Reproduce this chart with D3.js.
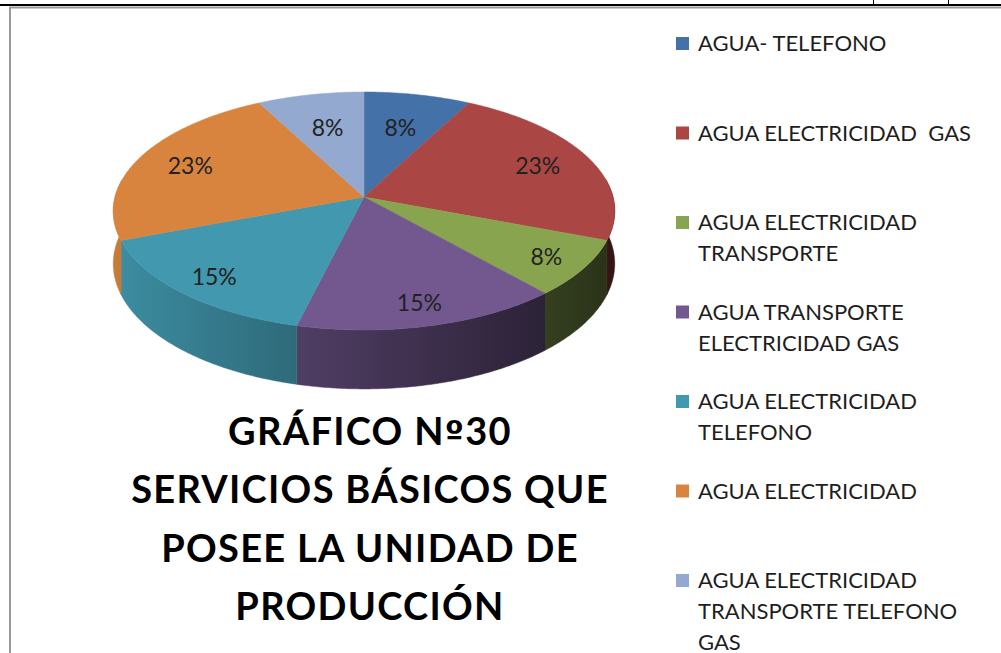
<!DOCTYPE html>
<html>
<head>
<meta charset="utf-8">
<script src="https://cdn.jsdelivr.net/npm/d3@7"></script>
<style>
  html, body { margin: 0; padding: 0; background: #fff; }
  svg { display: block; }
  text { font-family: Lato, "Open Sans", sans-serif; }
</style>
</head>
<body>
<svg id="chart"></svg>
<script>
// categories (legend text, line breaks as shown in the chart)
const categories = [
    'AGUA- TELEFONO',
    'AGUA ELECTRICIDAD  GAS',
    'AGUA ELECTRICIDAD\nTRANSPORTE',
    'AGUA TRANSPORTE\nELECTRICIDAD GAS',
    'AGUA ELECTRICIDAD\nTELEFONO',
    'AGUA ELECTRICIDAD',
    'AGUA ELECTRICIDAD\nTRANSPORTE TELEFONO\nGAS'
];
// number of production units per category (8%, 23%, 8%, 15%, 15%, 23%, 8%)
const counts = [1, 3, 1, 2, 2, 3, 1];
const colors = ['#4471a8', '#aa4644', '#89a44f', '#72588f', '#4298ae', '#d9843e', '#93a9cf'];
const titleLines = ['GRÁFICO N|º|30', 'SERVICIOS BÁSICOS QUE', 'POSEE LA UNIDAD DE', 'PRODUCCIÓN'];

const width = 1001, height = 653;

const svg = d3.select('#chart')
    .attr('width', width)
    .attr('height', height);
const defs = svg.append('defs');

// page frame around the chart
svg.append('rect')
    .attr('x', 10).attr('y', 7.5)
    .attr('width', 1010).attr('height', 660)
    .attr('fill', '#fff')
    .attr('stroke', '#9a9a9a')
    .attr('stroke-width', 2);
svg.append('line')
    .attr('x1', 0).attr('x2', width)
    .attr('y1', 5).attr('y2', 5)
    .attr('stroke', '#000').attr('stroke-width', 2);
[873.5, 948.5].forEach(x => {
    svg.append('line')
        .attr('x1', x).attr('x2', x)
        .attr('y1', 0).attr('y2', 5)
        .attr('stroke', '#000').attr('stroke-width', 1);
});

// perspective projection of the pie disc
const cx = 364, cy = 197, rx = 249, ry = 117.35, persp = 0.1176, depth = 52;
function proj(a, k = 1, h = 0) {
    const w = 1 + persp * k * Math.cos(a);
    return [cx + rx * k * Math.sin(a) / w, cy + (-ry * k * Math.cos(a) + h) / w];
}

const total = d3.sum(counts);
const pie = d3.pie().sort(null).value(d => d)
    .startAngle(0).endAngle(2 * Math.PI);
const arcs = pie(counts);
const line = d3.line();
const step = Math.PI / 360;

function sample(a0, a1) {
    const n = Math.max(1, Math.ceil((a1 - a0) / step));
    return d3.range(n + 1).map(i => a0 + (a1 - a0) * i / n);
}

// side wall, shaded darker toward the right
const shade = x => Math.max(0.3, Math.min(1, 0.92 - (x - 120) * 0.00125));
const gx0 = cx - rx - 5, gx1 = cx + rx + 5;
arcs.forEach((d, i) => {
    const base = d3.rgb(colors[i]);
    const g = defs.append('linearGradient')
        .attr('id', 'side' + i)
        .attr('gradientUnits', 'userSpaceOnUse')
        .attr('x1', gx0).attr('x2', gx1).attr('y1', 0).attr('y2', 0);
    d3.range(21).forEach(j => {
        const x = gx0 + (gx1 - gx0) * j / 20, f = shade(x);
        g.append('stop')
            .attr('offset', j / 20)
            .attr('stop-color', d3.rgb(base.r * f, base.g * f, base.b * f).formatHex());
    });
});
const lo = Math.PI / 2 - 0.15, hi = 3 * Math.PI / 2 + 0.15;
svg.append('g').selectAll('path')
    .data(arcs.filter(d => Math.max(d.startAngle, lo) < Math.min(d.endAngle, hi)))
    .join('path')
    .attr('d', d => {
        const ts = sample(Math.max(d.startAngle, lo), Math.min(d.endAngle, hi));
        const pts = ts.map(a => proj(a)).concat(ts.slice().reverse().map(a => proj(a, 1, depth)));
        return line(pts) + 'Z';
    })
    .attr('fill', d => 'url(#side' + d.index + ')')
    .attr('stroke', d => 'url(#side' + d.index + ')')
    .attr('stroke-width', 0.5);

// top faces
svg.append('g').selectAll('path')
    .data(arcs)
    .join('path')
    .attr('d', d => line([[cx, cy]].concat(sample(d.startAngle, d.endAngle).map(a => proj(a)))) + 'Z')
    .attr('fill', (d, i) => colors[i])
    .attr('stroke', (d, i) => colors[i])
    .attr('stroke-width', 0.5);

// percentage labels (pulled inward on the narrow far slices, like best fit)
const pct = d3.format('.0%');
function labelPos(d) {
    const a = (d.startAngle + d.endAngle) / 2, c = Math.cos(a);
    const k = c < 0 ? 0.84 : c < 0.4 ? 0.77 : 0.77 - 0.2 * (c - 0.4);
    return proj(a, k);
}
svg.append('g').selectAll('text')
    .data(arcs)
    .join('text')
    .attr('x', d => labelPos(d)[0])
    .attr('y', d => labelPos(d)[1])
    .attr('dy', '0.36em')
    .attr('text-anchor', 'middle')
    .attr('font-size', 23)
    .attr('fill', '#222')
    .text(d => pct(d.value / total));

// title
const title = svg.append('g').selectAll('text')
    .data(titleLines)
    .join('text')
    .attr('x', 370)
    .attr('y', (d, i) => 445 + i * 58.3)
    .attr('text-anchor', 'middle')
    .attr('font-size', 38)
    .attr('font-weight', 'bold')
    .attr('letter-spacing', 1.3)
    .attr('fill', '#000');
title.selectAll('tspan')
    .data(d => d.split('|'))
    .join('tspan')
    .style('font-family', d => d === 'º' ? '"DejaVu Sans", sans-serif' : null)
    .attr('font-size', d => d === 'º' ? 34 : null)
    .text(d => d);

// legend
const legend = svg.append('g').selectAll('g')
    .data(categories)
    .join('g')
    .attr('transform', (d, i) => 'translate(676,' + (51 + i * 89.5) + ')');
legend.append('rect')
    .attr('x', 0).attr('y', -14)
    .attr('width', 13).attr('height', 13)
    .attr('fill', (d, i) => colors[i]);
legend.append('text')
    .attr('font-size', 22)
    .attr('fill', '#1e1e1e')
    .style('white-space', 'pre')
    .selectAll('tspan')
    .data(d => d.split('\n'))
    .join('tspan')
    .attr('x', 22)
    .attr('y', (d, i) => i * 31)
    .text(d => d);
</script>
</body>
</html>
